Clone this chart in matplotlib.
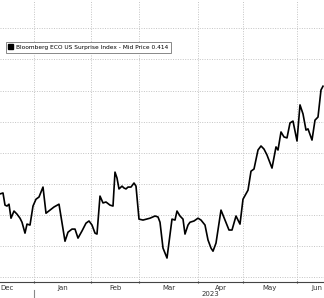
import numpy as np
import matplotlib.pyplot as plt
from matplotlib.patches import Patch
from matplotlib.transforms import blended_transform_factory

# time position on the chart's own axis (month starts listed in month_edges)
t = [0, 3, 5, 7, 9, 11, 14, 17, 20, 22, 25, 27, 30, 33, 36, 39, 43, 46, 50, 54,
     59, 65, 68, 72, 75, 78, 82, 86, 89, 92, 95, 97, 100, 103, 106, 110, 113,
     115, 117, 119, 122, 124, 126, 128, 131, 134, 136, 139, 143, 150, 155, 158,
     160, 163, 167, 172, 175, 177, 180, 183, 185, 188, 190, 194, 198, 201, 205,
     208, 211, 213, 216, 221, 225, 229, 232, 236, 238, 240, 243, 248, 251, 254,
     258, 261, 264, 267, 272, 276, 278, 281, 284, 287, 290, 293, 297, 300, 303,
     306, 308, 312, 315, 318, 321, 323]
surprise = [0.068, 0.071, 0.032, 0.029, 0.035, -0.010, 0.013, 0.003, -0.010,
            -0.023, -0.058, -0.029, -0.032, 0.029, 0.051, 0.058, 0.090, 0.006,
            0.016, 0.026, 0.035, -0.084, -0.055, -0.045, -0.045, -0.074, -0.051,
            -0.026, -0.019, -0.032, -0.058, -0.061, 0.061, 0.039, 0.042, 0.032,
            0.029, 0.138, 0.119, 0.084, 0.093, 0.087, 0.084, 0.090, 0.090, 0.103,
            0.093, -0.013, -0.016, -0.010, -0.003, -0.006, -0.023, -0.106, -0.138,
            -0.013, -0.016, 0.013, -0.003, -0.013, -0.061, -0.032, -0.023, -0.019,
            -0.010, -0.016, -0.032, -0.080, -0.106, -0.116, -0.090, 0.016, -0.016,
            -0.048, -0.048, -0.003, -0.016, -0.029, 0.051, 0.080, 0.141, 0.148,
            0.209, 0.222, 0.212, 0.193, 0.151, 0.219, 0.209, 0.267, 0.251, 0.248,
            0.296, 0.302, 0.238, 0.354, 0.325, 0.273, 0.277, 0.241, 0.305, 0.315,
            0.402, 0.414]

month_edges = [34, 91, 139, 198, 243, 297]
month_mids = [7, 62.5, 115, 168.5, 220.5, 270, 317]
month_names = ['Dec', 'Jan', 'Feb', 'Mar', 'Apr', 'May', 'Jun']
y_grid = np.arange(-0.2, 0.61, 0.1)

fig = plt.figure(figsize=(3.24, 2.98), dpi=100)
ax = fig.add_axes([0, 16 / 298, 1, 282 / 298])

ax.plot(t, surprise, color='black', lw=1.2, solid_joinstyle='round')

ax.set_xlim(0, 324)
ax.set_ylim(-0.215, 0.691)

for s in ['top', 'left', 'right']:
    ax.spines[s].set_visible(False)
ax.spines['bottom'].set_color('#444444')
ax.spines['bottom'].set_linewidth(0.8)

ax.set_yticks(y_grid)
ax.tick_params(axis='y', left=False, labelleft=False)
ax.set_xticks(month_edges)
ax.set_xticklabels([])
ax.set_xticks(month_mids, minor=True)
ax.set_xticklabels(month_names, minor=True, fontsize=5, color='#333333')
ax.tick_params(axis='x', which='major', length=2, direction='inout',
               color='#444444', width=0.8)
ax.tick_params(axis='x', which='minor', length=0, pad=2)
ax.grid(True, which='major', color='#c4c4c4', ls=(0, (1, 1.5)), lw=0.7)

# year separator and year label
ax.axvline(34, ymin=-0.057, ymax=-0.028, color='#888888', lw=0.8, clip_on=False)
tr = blended_transform_factory(ax.transData, ax.transAxes)
ax.text(210, -0.043, '2023', transform=tr, fontsize=5, color='#333333',
        ha='center', va='center')

handle = Patch(facecolor='black', edgecolor='black')
leg = ax.legend([handle], ['Bloomberg ECO US Surprise Index - Mid Price 0.414'],
                loc='upper left', bbox_to_anchor=(0.008, 0.862), fontsize=4.2,
                handlelength=0.9, handleheight=0.9, handletextpad=0.4,
                borderpad=0.45, fancybox=False, framealpha=1)
leg.get_frame().set_edgecolor('#888888')
leg.get_frame().set_linewidth(0.7)

fig.savefig('out.png', dpi=100)
